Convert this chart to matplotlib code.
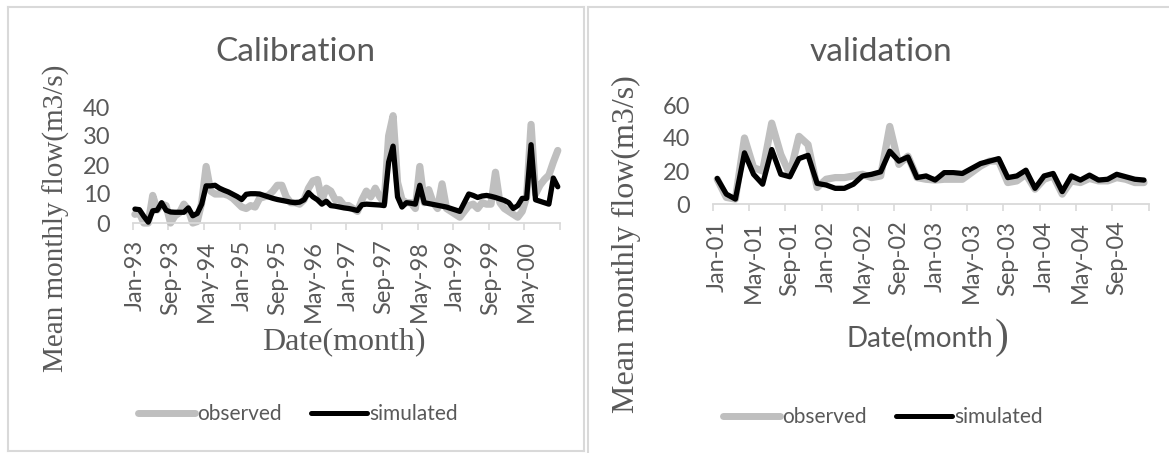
import matplotlib
matplotlib.use("Agg")
import matplotlib.pyplot as plt
import numpy as np
from matplotlib.lines import Line2D

W, H = 1169, 453

# ---------------- data ----------------
cal_labels = ["Jan-93", "Sep-93", "May-94", "Jan-95", "Sep-95", "May-96",
              "Jan-97", "Sep-97", "May-98", "Jan-99", "Sep-99", "May-00"]
cal_observed = [3, 3.5, 0, 0, 9.5, 4.5, 6.5, 6, 0, 2.5,
                3.5, 6.5, 4.5, 0, 0.5, 7, 19.5, 11, 10, 10,
                10, 9.5, 8.5, 7, 5.5, 5, 6, 5.5, 8.5, 9,
                9.5, 11, 13, 13, 9, 7, 7, 6.5, 8, 12,
                14.5, 15, 8, 12, 11, 8, 8, 6, 6, 5,
                4, 8, 11, 9, 12, 9, 7, 30, 37, 14,
                8, 7, 7, 5, 19.5, 7, 11.5, 7, 5, 13.5,
                5, 4, 3, 2, 4, 6, 6.5, 5, 7, 6.5,
                6.5, 17.5, 7, 5, 4, 3, 2, 4, 9, 34,
                10, 13, 15, 16.5, 21, 25]
cal_simulated = [4.8, 4.6, 2.3, 0.3, 4.2, 4.4, 7, 4.4, 3.8, 3.7,
                 3.7, 3.7, 5.2, 2.5, 3.3, 6.5, 12.8, 12.8, 13, 12,
                 11.3, 10.7, 9.9, 9.1, 8.1, 9.9, 10.1, 10.1, 10, 9.5,
                 9, 8.5, 8.1, 7.8, 7.5, 7.2, 7, 7.2, 8, 10.5,
                 9, 8, 6.5, 7.5, 6, 5.8, 5.5, 5.2, 5, 4.7,
                 4.3, 6.3, 6.5, 6.4, 6.3, 6.2, 6, 21, 26.5, 9,
                 5.5, 7, 6.8, 6.5, 13, 7, 6.7, 6.4, 6.1, 5.8,
                 5.5, 5, 4.5, 4, 7, 10, 9.5, 8.8, 9.3, 9.5,
                 9.2, 8.8, 8.3, 7.8, 7, 5, 6, 8.5, 8.5, 27,
                 8, 7.5, 7, 6.5, 15.5, 12.5]

val_labels = ["Jan-01", "May-01", "Sep-01", "Jan-02", "May-02", "Sep-02",
              "Jan-03", "May-03", "Sep-03", "Jan-04", "May-04", "Sep-04"]
val_observed = [15, 4, 3, 40, 22, 20, 49, 30, 18, 41,
                36, 10, 15, 16, 16, 17, 18, 16, 17, 47,
                24, 29, 16, 15, 14.5, 15, 15, 15, 19, 23,
                26, 26, 13, 14, 18, 9, 15, 17, 6, 14,
                13, 15.5, 14, 14, 16, 15, 13, 13]
val_simulated = [15.5, 6, 3, 31, 18, 12, 33, 18, 16.5, 27.5,
                 29.5, 12.5, 11.5, 9.5, 9.5, 12, 17, 18, 19.5, 32,
                 26, 28.5, 16, 17, 14.5, 19, 19, 18.5, 21.5, 24.5,
                 26, 27.5, 16, 17, 20.5, 9.5, 17, 18.5, 7.5, 17,
                 14.5, 17.5, 14.5, 15, 18, 16.5, 15, 14.5]

# ---------------- style ----------------
TXT = "#595959"
AXC = "#d9d9d9"
GRAY = "#bfbfbf"
SANS = ["Lato", "DejaVu Sans"]
SERIF = ["Liberation Serif", "DejaVu Serif"]

fig = plt.figure(figsize=(W / 100, H / 100), dpi=100)
fig.patch.set_facecolor("white")


def fx(x):
    return x / W


def fy(y):
    return 1 - y / H


def px_ax(x0, x1, y0, y1):
    return [fx(x0), fy(y1), fx(x1) - fx(x0), fy(y0) - fy(y1)]


# panel borders
for (xa, ya, xb, yb) in [(8, 7, 584, 7), (8, 7, 8, 451), (8, 451, 584, 451), (584, 7, 584, 451),
                         (587.5, 7, 1169, 7), (587.5, 7, 587.5, 453)]:
    fig.add_artist(Line2D([fx(xa), fx(xb)], [fy(ya), fy(yb)], color=AXC, lw=1.5,
                          transform=fig.transFigure))


def make_panel(rect, obs, sim, labels, step, ymax, ystep):
    ax = fig.add_axes(rect)
    n = len(obs)
    x = np.arange(n) + 0.5
    ax.plot(x, obs, color=GRAY, lw=5.2, solid_joinstyle="round", solid_capstyle="round",
            clip_on=False, zorder=2)
    ax.plot(x, sim, color="black", lw=3.8, solid_joinstyle="round", solid_capstyle="round",
            clip_on=False, zorder=3)
    ax.set_xlim(0, n)
    ax.set_ylim(0, ymax)
    for s in ["top", "right", "left"]:
        ax.spines[s].set_visible(False)
    ax.spines["bottom"].set_color(AXC)
    ax.spines["bottom"].set_linewidth(1.3)
    ax.set_xticks(np.arange(0, n + 1, step))
    ax.set_xticklabels([])
    ax.tick_params(axis="x", which="major", length=5, width=1.2, color=AXC, direction="out")
    ax.set_xticks(np.arange(0, n, step) + 0.5, minor=True)
    ax.set_xticklabels(labels, minor=True, rotation=90, fontsize=17, color=TXT, family=SANS)
    ax.tick_params(axis="x", which="minor", length=0, pad=12)
    ax.set_yticks(np.arange(0, ymax + 1, ystep))
    ax.set_yticklabels([str(v) for v in range(0, ymax + 1, ystep)], fontsize=17,
                       color=TXT, family=SANS)
    ax.tick_params(axis="y", length=0, pad=16)
    ax.set_facecolor("none")
    return ax


ax1 = make_panel(px_ax(132.7, 560, 107, 223), cal_observed, cal_simulated, cal_labels, 8, 40, 10)
ax2 = make_panel(px_ax(712.7, 1148.5, 105, 204), val_observed, val_simulated, val_labels, 4, 60, 20)

# titles
fig.text(fx(295), fy(52), "Calibration", fontsize=24, color=TXT, family=SANS,
         ha="center", va="center")
fig.text(fx(881), fy(52), "validation", fontsize=24, color=TXT, family=SANS,
         ha="center", va="center")

# y labels
fig.text(fx(56), fy(218), "Mean monthly flow(m3/s)", fontsize=21, color=TXT, family=SERIF,
         rotation=90, ha="center", va="center")
fig.text(fx(626), fy(244), "Mean monthly flow(m3/s)", fontsize=23, color=TXT, family=SERIF,
         rotation=90, ha="center", va="center")

# x labels
fig.text(fx(344), fy(342), "Date(month)", fontsize=23, color=TXT, family=SERIF,
         ha="center", va="center")
t = fig.text(fx(920), fy(338), "Date(month", fontsize=20, color=TXT, family=SANS,
             ha="center", va="center")
ax2.annotate(")", xy=(1.0, 0.5), xycoords=t, xytext=(1, 0), textcoords="offset points",
             fontsize=30, color=TXT, family=SERIF, ha="left", va="center",
             annotation_clip=False)

# legends
for (cx, cy) in [(298, 414), (883, 417)]:
    handles = [Line2D([], [], color=GRAY, lw=5, solid_capstyle="round"),
               Line2D([], [], color="black", lw=3.6, solid_capstyle="round")]
    fig.legend(handles, ["observed", "simulated"], loc="center",
               bbox_to_anchor=(fx(cx), fy(cy)), ncol=2, frameon=False,
               handlelength=2.7, handletextpad=0.1, columnspacing=1.4,
               prop={"family": SANS, "size": 15}, labelcolor=TXT)

fig.savefig("out.png", dpi=100)
